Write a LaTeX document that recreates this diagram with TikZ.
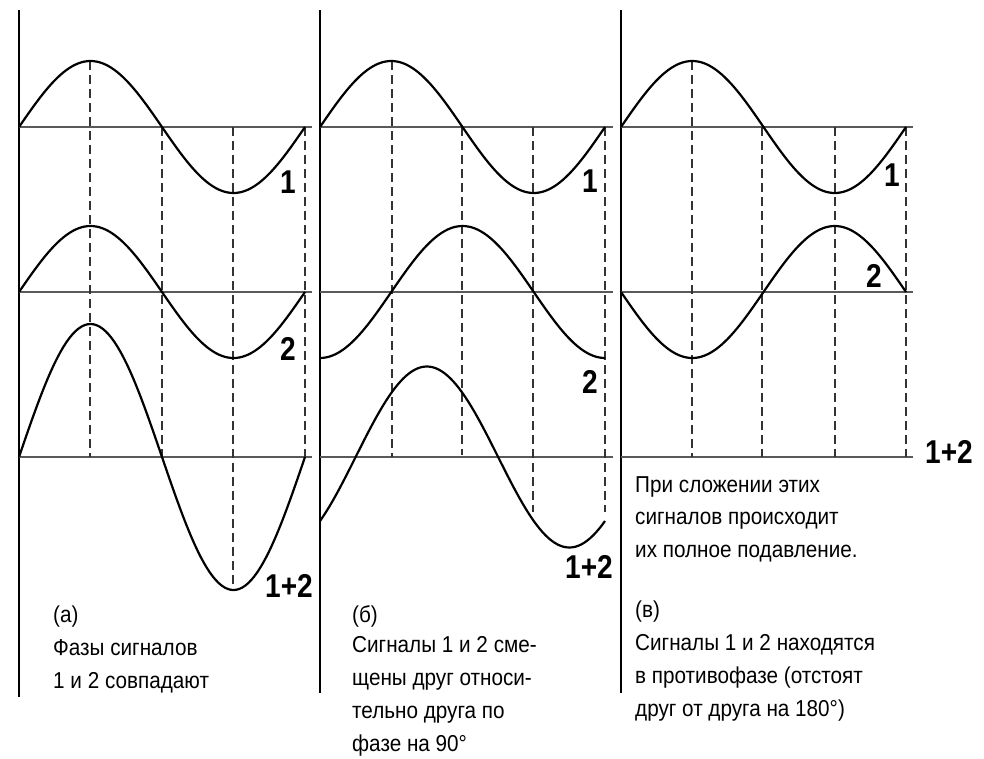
\documentclass[tikz,border=0pt]{standalone}
\usepackage{fontspec}
\setmainfont{Liberation Sans}[FakeStretch=0.9]
\newfontfamily\digitfont{Liberation Sans}[FakeStretch=0.85]
\begin{document}
\begin{tikzpicture}[x=1pt,y=-1pt,
  panel/.style={line width=2.4pt},
  axisline/.style={line width=2pt, draw=black!65},
  curve/.style={line width=2.2pt, line join=round},
  guide/.style={line width=1.6pt, dash pattern=on 9pt off 5pt, draw=black!80},
  num/.style={font=\digitfont\bfseries\fontsize{33}{33}\selectfont, inner sep=0pt, anchor=base},
  txt/.style={font=\fontsize{23}{28}\selectfont, inner sep=0pt, anchor=base west},
]
\useasboundingbox (0,0) rectangle (984,758);

% ---------- panel (a) ----------
\draw[panel] (19,10) -- (19,697);
\foreach \ya in {127,292,457} \draw[axisline] (19,\ya) -- (312,\ya);
\draw[guide] (90,61) -- (90,457);
\draw[guide] (162,127) -- (162,459);
\draw[guide] (233,127) -- (233,590);
\draw[guide] (305,127) -- (305,459);
\draw[curve] plot[domain=0:360, samples=97] ({19+0.79444*\x},{127-66*sin(\x)});
\draw[curve] plot[domain=0:360, samples=97] ({19+0.79444*\x},{292-66*sin(\x)});
\draw[curve] plot[domain=0:360, samples=97] ({19+0.79444*\x},{457-133*sin(\x)});
\node[num] (a1) at (288,193) {1};
\node[num] (a2) at (288,360) {2};
\node[num] (a12) at (289,597) {1+2};
\node[txt] (ta1) at (53,622) {(а)};
\node[txt] (ta2) at (53,655) {Фазы сигналов};
\node[txt] (ta3) at (53,688) {1 и 2 совпадают};

% ---------- panel (b) ----------
\draw[panel] (320,10) -- (320,693);
\foreach \ya in {127,292,457} \draw[axisline] (320,\ya) -- (613,\ya);
\draw[guide] (392,61) -- (392,457);
\draw[guide] (462,127) -- (462,455);
\draw[guide] (533,127) -- (533,512);
\draw[guide] (605,127) -- (605,512);
\draw[curve] plot[domain=0:360, samples=97] ({320+0.79167*\x},{127-66*sin(\x)});
\draw[curve] plot[domain=0:360, samples=97] ({320+0.79167*\x},{292+66*cos(\x)});
\draw[curve] plot[domain=0:360, samples=97] ({320+0.79167*\x},{457-64*(sin(\x)-cos(\x))});
\node[num] (b1) at (590,192) {1};
\node[num] (b2) at (590,393) {2};
\node[num] (b12) at (589,578) {1+2};
\node[txt] (tb1) at (352,622) {(б)};
\node[txt] (tb2) at (352,652) {Сигналы 1 и 2 сме-};
\node[txt] (tb3) at (352,685) {щены друг относи-};
\node[txt] (tb4) at (352,718) {тельно друга по};
\node[txt] (tb5) at (352,751) {фазе на 90°};

% ---------- panel (c) ----------
\draw[panel] (621,10) -- (621,693);
\foreach \ya in {127,292,457} \draw[axisline] (621,\ya) -- (913,\ya);
\draw[guide] (692,61) -- (692,457);
\draw[guide] (762,127) -- (762,457);
\draw[guide] (835,127) -- (835,457);
\draw[guide] (906,127) -- (906,457);
\draw[curve] plot[domain=0:360, samples=97] ({621+0.79167*\x},{127-66*sin(\x)});
\draw[curve] plot[domain=0:360, samples=97] ({621+0.79167*\x},{292+66*sin(\x)});
\node[num] (c1) at (892,186) {1};
\node[num] (c2) at (874,287) {2};
\node[num] (c12) at (949,463) {1+2};
\node[txt] (tc1) at (635,492) {При сложении этих};
\node[txt] (tc2) at (635,524) {сигналов происходит};
\node[txt] (tc3) at (635,557) {их полное подавление.};
\node[txt] (tc4) at (635,617) {(в)};
\node[txt] (tc5) at (635,650) {Сигналы 1 и 2 находятся};
\node[txt] (tc6) at (635,683) {в противофазе (отстоят};
\node[txt] (tc7) at (635,716) {друг от друга на 180°)};
\end{tikzpicture}
\end{document}
